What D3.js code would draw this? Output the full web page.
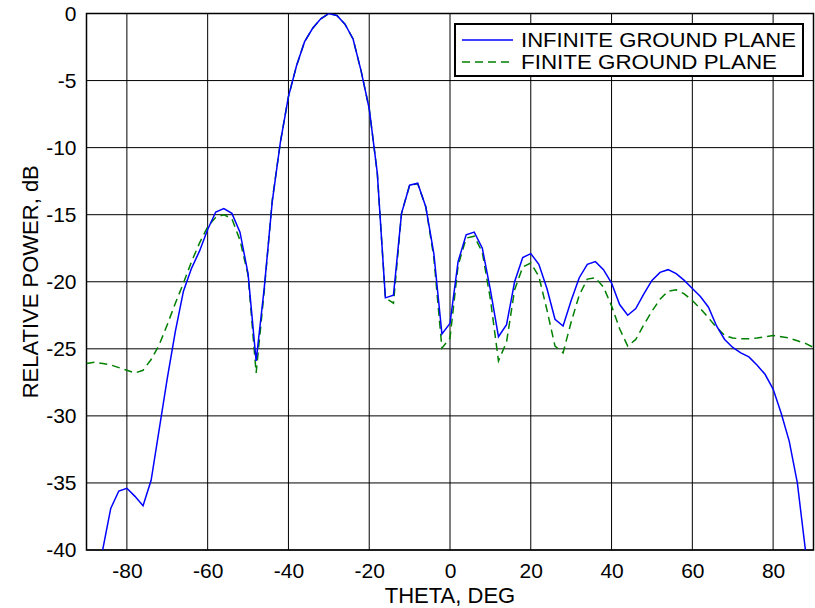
<!DOCTYPE html>
<html>
<head>
<meta charset="utf-8">
<script src="https://cdn.jsdelivr.net/npm/d3@7"></script>
<style>
  body { margin: 0; background: #fff; }
  svg text { font-family: "Liberation Sans", Arial, sans-serif; }
</style>
</head>
<body>
<div id="container"></div>
<script>
/* CONSTANTS AND GLOBALS */
const width = 815;
const height = 608;
const margin = { top: 13.5, right: 1.5, bottom: 58, left: 86.5 };

/* DATA */
const thetaInfinite = [-86, -84, -82, -80, -78, -76, -74, -72, -70, -68, -66, -64, -62, -60, -58, -56, -54, -52, -50, -48,
  -46, -44, -42, -40, -38, -36, -34, -32, -30, -28, -26, -24, -22, -20, -18, -16, -14, -12, -10, -8,
  -6, -4, -2, 0, 2, 4, 6, 8, 10, 12, 14, 16, 18, 20, 22, 24, 26, 28, 30, 32,
  34, 36, 38, 40, 42, 44, 46, 48, 50, 52, 54, 56, 58, 60, 62, 64, 66, 68, 70, 72,
  74, 76, 78, 80, 82, 84, 86, 88];
const powerInfinite = [-40, -36.9, -35.6, -35.4, -36.0, -36.7, -34.8, -31.0, -27.2, -23.7, -20.7, -19.0, -17.7, -16.1, -14.8, -14.55, -14.9, -16.3, -19.4, -25.9,
  -20.5, -14.0, -9.6, -6.2, -3.9, -2.1, -1.1, -0.4, 0, -0.15, -0.8, -1.9, -4.3, -7.1, -11.9, -21.2, -21.0, -14.9, -12.8, -12.65,
  -14.4, -17.9, -23.9, -23.1, -18.5, -16.5, -16.3, -17.5, -20.6, -24.1, -23.2, -20.0, -18.2, -17.9, -18.7, -20.5, -22.8, -23.3, -21.4, -19.7,
  -18.7, -18.5, -19.1, -20.1, -21.7, -22.5, -22.0, -20.9, -19.9, -19.3, -19.1, -19.4, -19.9, -20.5, -21.1, -21.9, -23.3, -24.3, -24.9, -25.3,
  -25.6, -26.2, -26.9, -28.0, -29.8, -31.9, -35.0, -40];

const thetaFinite = [-90, -88, -86, -84, -82, -80, -78, -76, -74, -72, -70, -68, -66, -64, -62, -60, -58, -56, -54, -52,
  -50, -48, -46, -44, -42, -40, -38, -36, -34, -32, -30, -28, -26, -24, -22, -20, -18, -16, -14, -12,
  -10, -8, -6, -4, -2, 0, 2, 4, 6, 8, 10, 12, 14, 16, 18, 20, 22, 24, 26, 28,
  30, 32, 34, 36, 38, 40, 42, 44, 46, 48, 50, 52, 54, 56, 58, 60, 62, 64, 66, 68,
  70, 72, 74, 76, 78, 80, 82, 84, 86, 88, 90];
const powerFinite = [-26.1, -26.0, -26.1, -26.2, -26.4, -26.6, -26.8, -26.6, -25.8, -24.7, -23.2, -21.6, -20.1, -18.5, -17.1, -15.9, -15.2, -15.0, -15.3, -16.9,
  -19.5, -26.8, -20.7, -13.9, -9.6, -6.2, -3.9, -2.1, -1.1, -0.4, 0, -0.15, -0.8, -1.9, -4.3, -7.1, -11.9, -21.2, -21.6, -14.9,
  -12.8, -12.7, -14.4, -18.2, -24.95, -24.2, -18.8, -16.75, -16.6, -17.8, -21.3, -25.9, -24.5, -20.6, -18.9, -18.6, -19.6, -22.1, -24.8, -25.3,
  -23.0, -21.0, -19.8, -19.7, -20.4, -21.8, -23.5, -24.8, -24.3, -23.2, -22.2, -21.3, -20.7, -20.6, -20.9, -21.4, -22.0, -22.7, -23.4, -24.0,
  -24.2, -24.25, -24.25, -24.2, -24.1, -24.0, -24.1, -24.2, -24.4, -24.6, -24.9];

const xTicks = [-80, -60, -40, -20, 0, 20, 40, 60, 80];
const yTicks = [0, -5, -10, -15, -20, -25, -30, -35, -40];
const seriesNames = ["INFINITE GROUND PLANE", "FINITE GROUND PLANE"];

/* SCALES */
const xScale = d3.scaleLinear()
  .domain([-90, 90])
  .range([margin.left, width - margin.right]);

const yScale = d3.scaleLinear()
  .domain([-40, 0])
  .range([height - margin.bottom, margin.top]);

const svg = d3.select("#container")
  .append("svg")
  .attr("width", width)
  .attr("height", height);

svg.append("defs").append("clipPath")
  .attr("id", "plot-clip")
  .append("rect")
  .attr("x", margin.left)
  .attr("y", margin.top)
  .attr("width", xScale(90) - xScale(-90))
  .attr("height", yScale(-40) - yScale(0));

/* GRID */
svg.append("g")
  .selectAll("line")
  .data(xTicks)
  .join("line")
  .attr("x1", d => xScale(d))
  .attr("x2", d => xScale(d))
  .attr("y1", yScale(0))
  .attr("y2", yScale(-40))
  .attr("stroke", "#000")
  .attr("stroke-width", 1);

svg.append("g")
  .selectAll("line")
  .data(yTicks)
  .join("line")
  .attr("x1", xScale(-90))
  .attr("x2", xScale(90))
  .attr("y1", d => yScale(d))
  .attr("y2", d => yScale(d))
  .attr("stroke", "#000")
  .attr("stroke-width", 1);

/* AXES */
// plain hyphen for negatives, like the original
const tickFmt = d => String(d);

const xAxis = d3.axisBottom(xScale).tickValues(xTicks).tickFormat(tickFmt).tickSize(0).tickPadding(13);
svg.append("g")
  .attr("transform", `translate(0, ${yScale(-40)})`)
  .call(xAxis)
  .call(g => g.select(".domain").remove())
  .selectAll("text")
  .attr("font-size", 21)
  .attr("font-family", "Liberation Sans, Arial, sans-serif")
  .attr("fill", "#000");

const yAxis = d3.axisLeft(yScale).tickValues(yTicks).tickFormat(tickFmt).tickSize(0).tickPadding(10);
svg.append("g")
  .attr("transform", `translate(${xScale(-90)}, 0)`)
  .call(yAxis)
  .call(g => g.select(".domain").remove())
  .selectAll("text")
  .attr("font-size", 21)
  .attr("font-family", "Liberation Sans, Arial, sans-serif")
  .attr("fill", "#000");

// frame
svg.append("rect")
  .attr("x", xScale(-90))
  .attr("y", yScale(0))
  .attr("width", xScale(90) - xScale(-90))
  .attr("height", yScale(-40) - yScale(0))
  .attr("fill", "none")
  .attr("stroke", "#000")
  .attr("stroke-width", 1.5);

/* LINES */
const line = d3.line()
  .x(d => xScale(d[0]))
  .y(d => yScale(d[1]));

svg.append("path")
  .datum(d3.zip(thetaFinite, powerFinite))
  .attr("clip-path", "url(#plot-clip)")
  .attr("d", line)
  .attr("fill", "none")
  .attr("stroke", "#008000")
  .attr("stroke-width", 1.5)
  .attr("stroke-dasharray", "8,5");

svg.append("path")
  .datum(d3.zip(thetaInfinite, powerInfinite))
  .attr("clip-path", "url(#plot-clip)")
  .attr("d", line)
  .attr("fill", "none")
  .attr("stroke", "#0000ff")
  .attr("stroke-width", 1.5);

/* LABELS */
svg.append("text")
  .attr("x", (xScale(-90) + xScale(90)) / 2)
  .attr("y", 603)
  .attr("text-anchor", "middle")
  .attr("font-size", 22)
  .text("THETA, DEG");

svg.append("text")
  .attr("transform", `translate(38, ${(yScale(0) + yScale(-40)) / 2}) rotate(-90)`)
  .attr("text-anchor", "middle")
  .attr("font-size", 22)
  .text("RELATIVE POWER, dB");

/* LEGEND */
const legend = svg.append("g");
legend.append("rect")
  .attr("x", 455)
  .attr("y", 24)
  .attr("width", 348)
  .attr("height", 52)
  .attr("fill", "#fff")
  .attr("stroke", "#000")
  .attr("stroke-width", 2);

// text in the original is a little wider than tall, hence the stretched length
const legendItems = [
  { name: seriesNames[0], color: "#0000ff", dash: null, y: 40, len: 275 },
  { name: seriesNames[1], color: "#008000", dash: "8,5", y: 62, len: 256 }
];

legend.selectAll(".key")
  .data(legendItems)
  .join("line")
  .attr("class", "key")
  .attr("x1", 462)
  .attr("x2", 513)
  .attr("y1", d => d.y)
  .attr("y2", d => d.y)
  .attr("stroke", d => d.color)
  .attr("stroke-width", 1.5)
  .attr("stroke-dasharray", d => d.dash);

legend.selectAll(".key-label")
  .data(legendItems)
  .join("text")
  .attr("class", "key-label")
  .attr("x", 521)
  .attr("y", d => d.y)
  .attr("dy", "0.35em")
  .attr("font-size", 20)
  .attr("textLength", d => d.len)
  .attr("lengthAdjust", "spacingAndGlyphs")
  .text(d => d.name);
</script>
</body>
</html>
